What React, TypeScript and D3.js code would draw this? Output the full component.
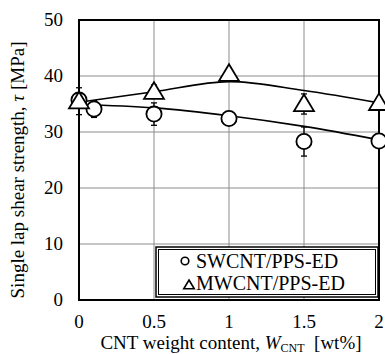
import { useEffect, useRef } from 'react';
import * as d3 from 'd3';

// SWCNT/PPS-ED measurements
const swContent = [0, 0.1, 0.5, 1, 1.5, 2];
const swStrength = [35.7, 34.1, 33.2, 32.4, 28.3, 28.4];
const swError = [1.2, 1.5, 2.0, 1.0, 2.6, 0.8];

// MWCNT/PPS-ED measurements
const mwContent = [0, 0.5, 1, 1.5, 2];
const mwStrength = [35.5, 37.2, 40.4, 35.0, 35.2];
const mwError = [2.4, 1.2, 1.0, 1.8, 0.8];

// trend curves
const trendContent = [0, 0.5, 1, 1.5, 2];
const swTrend = [34.9, 34.3, 32.9, 31.0, 28.6];
const mwTrend = [35.3, 37.2, 39.0, 37.4, 35.2];

const xTicks = [0, 0.5, 1, 1.5, 2];
const xTickLabels = ['0', '0.5', '1', '1.5', '2'];
const yTicks = [0, 10, 20, 30, 40, 50];

const legendLabels = ['SWCNT/PPS-ED', 'MWCNT/PPS-ED'];

const App = () => {
  const svgRef = useRef<SVGSVGElement>(null);

  useEffect(() => {
    const width = 385;
    const height = 354;
    const m = { left: 79, right: 6, top: 20, bottom: 54 };
    const font = '"Times New Roman", Times, serif';

    const svg = d3.select(svgRef.current);
    svg.selectAll('*').remove();

    const x = d3.scaleLinear().domain([0, 2]).range([m.left, width - m.right]);
    const y = d3.scaleLinear().domain([0, 50]).range([height - m.bottom, m.top]);

    // grid
    const grid = svg.append('g').attr('stroke', '#8c8c8c').attr('stroke-width', 1);
    grid.selectAll('line.gx')
      .data(xTicks.slice(1, -1))
      .enter()
      .append('line')
      .attr('x1', d => x(d)).attr('x2', d => x(d))
      .attr('y1', y(0)).attr('y2', y(50));
    grid.selectAll('line.gy')
      .data(yTicks.slice(1, -1))
      .enter()
      .append('line')
      .attr('x1', x(0)).attr('x2', x(2))
      .attr('y1', d => y(d)).attr('y2', d => y(d));

    // frame
    svg.append('rect')
      .attr('x', x(0)).attr('y', y(50))
      .attr('width', x(2) - x(0)).attr('height', y(0) - y(50))
      .attr('fill', 'none').attr('stroke', '#000').attr('stroke-width', 2);

    // tick labels
    yTicks.forEach(d => {
      svg.append('text')
        .attr('x', x(0) - 16)
        .attr('y', y(d) + 6)
        .attr('text-anchor', 'end')
        .style('font-family', font)
        .style('font-size', '19px')
        .text(`${d}`);
    });
    xTicks.forEach((d, i) => {
      svg.append('text')
        .attr('x', x(d))
        .attr('y', y(0) + 28)
        .attr('text-anchor', 'middle')
        .style('font-family', font)
        .style('font-size', '19px')
        .text(xTickLabels[i]);
    });

    // axis titles
    const xt = svg.append('text')
      .attr('x', (x(0) + x(2)) / 2 + 2)
      .attr('y', height - 5)
      .attr('text-anchor', 'middle')
      .style('font-family', font)
      .style('font-size', '19px');
    xt.append('tspan').text('CNT weight content, ');
    xt.append('tspan').style('font-style', 'italic').text('W');
    xt.append('tspan').attr('dy', 3).style('font-size', '12px').text('CNT');
    xt.append('tspan').attr('dy', -3).text('\u00a0 [wt%]');

    const yt = svg.append('text')
      .attr('transform', `translate(24, ${(y(0) + y(50)) / 2 + 10}) rotate(-90)`)
      .attr('text-anchor', 'middle')
      .style('font-family', font)
      .style('font-size', '19px');
    yt.append('tspan').text('Single lap shear strength, ');
    yt.append('tspan').style('font-style', 'italic').text('\u03c4');
    yt.append('tspan').text(' [MPa]');

    // trend curves
    const line = d3.line<number>()
      .x((d, i) => x(trendContent[i]))
      .y(d => y(d))
      .curve(d3.curveCatmullRom);
    [swTrend, mwTrend].forEach(t => {
      svg.append('path')
        .attr('d', line(t))
        .attr('fill', 'none')
        .attr('stroke', '#000')
        .attr('stroke-width', 1.6);
    });

    // error bars
    const errorBars = (xs: number[], ys: number[], es: number[]) => {
      const g = svg.append('g').attr('stroke', '#000').attr('stroke-width', 1.3);
      xs.forEach((xv, i) => {
        const cx = x(xv);
        const top = y(ys[i] + es[i]);
        const bot = y(ys[i] - es[i]);
        g.append('line').attr('x1', cx).attr('x2', cx).attr('y1', top).attr('y2', bot);
        g.append('line').attr('x1', cx - 3).attr('x2', cx + 3).attr('y1', top).attr('y2', top);
        g.append('line').attr('x1', cx - 3).attr('x2', cx + 3).attr('y1', bot).attr('y2', bot);
      });
    };
    errorBars(swContent, swStrength, swError);
    errorBars(mwContent, mwStrength, mwError);

    // markers
    const tri = (cx: number, cy: number, s: number) =>
      `M${cx},${cy - s}L${cx + s * 1.05},${cy + s * 0.75}L${cx - s * 1.05},${cy + s * 0.75}Z`;

    svg.selectAll('circle.sw')
      .data(swStrength)
      .enter()
      .append('circle')
      .attr('cx', (d, i) => x(swContent[i]))
      .attr('cy', d => y(d))
      .attr('r', 7.6)
      .attr('fill', '#fff')
      .attr('stroke', '#000')
      .attr('stroke-width', 1.8);

    svg.selectAll('path.mw')
      .data(mwStrength)
      .enter()
      .append('path')
      .attr('d', (d, i) => tri(x(mwContent[i]), y(d), 9.5))
      .attr('fill', '#fff')
      .attr('stroke', '#000')
      .attr('stroke-width', 1.8);

    // legend
    const lx = 156;
    const ly = 247;
    const lw = 222;
    const lh = 50;
    svg.append('rect')
      .attr('x', lx).attr('y', ly).attr('width', lw).attr('height', lh)
      .attr('fill', '#fff').attr('stroke', '#000').attr('stroke-width', 1.5);
    svg.append('rect')
      .attr('x', lx + 2.5).attr('y', ly + 2.5).attr('width', lw - 5).attr('height', lh - 5)
      .attr('fill', 'none').attr('stroke', '#000').attr('stroke-width', 1);

    svg.append('circle')
      .attr('cx', lx + 29).attr('cy', ly + 14)
      .attr('r', 3.8)
      .attr('fill', 'none').attr('stroke', '#000').attr('stroke-width', 1.6);
    svg.append('path')
      .attr('d', tri(lx + 33, ly + 38, 5))
      .attr('fill', 'none').attr('stroke', '#000').attr('stroke-width', 1.6);

    legendLabels.forEach((d, i) => {
      svg.append('text')
        .attr('x', lx + 40)
        .attr('y', ly + 21 + i * 22)
        .style('font-family', font)
        .style('font-size', '20px')
        .text(d);
    });
  }, []);

  return (
    <svg
      ref={svgRef}
      width={385}
      height={354}
      style={{ position: 'absolute', left: 0, top: 0 }}
    />
  );
};

export default App;
